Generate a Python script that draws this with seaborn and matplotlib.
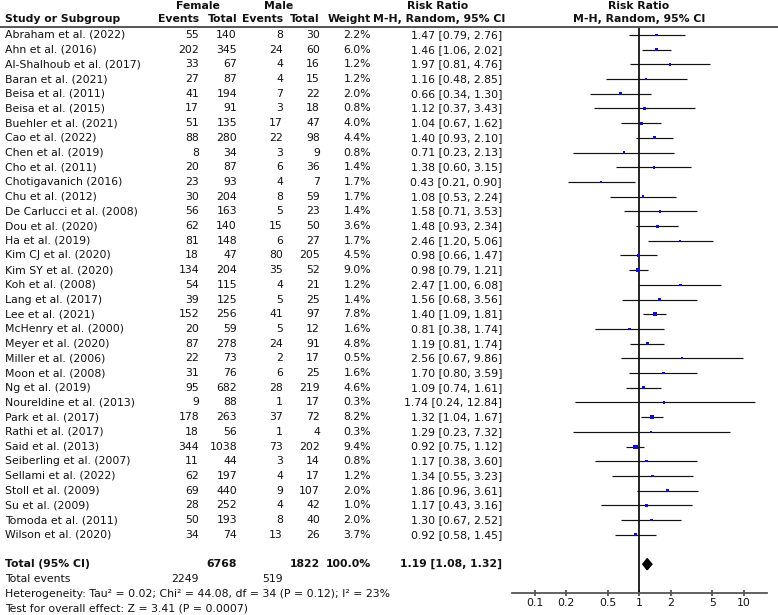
"""
Forest plot - Risk ratio, female vs male (M-H, random effects)
"""

import numpy as np
import matplotlib.pyplot as plt
import matplotlib.transforms as mtransforms
from matplotlib.lines import Line2D
import seaborn as sns

# -- Data -------------------------------------------------------------------
studies = [
    "Abraham et al. (2022)", "Ahn et al. (2016)", "Al-Shalhoub et al. (2017)",
    "Baran et al. (2021)", "Beisa et al. (2011)", "Beisa et al. (2015)",
    "Buehler et al. (2021)", "Cao et al. (2022)", "Chen et al. (2019)",
    "Cho et al. (2011)", "Chotigavanich (2016)", "Chu et al. (2012)",
    "De Carlucci et al. (2008)", "Dou et al. (2020)", "Ha et al. (2019)",
    "Kim CJ et al. (2020)", "Kim SY et al. (2020)", "Koh et al. (2008)",
    "Lang et al. (2017)", "Lee et al. (2021)", "McHenry et al. (2000)",
    "Meyer et al. (2020)", "Miller et al. (2006)", "Moon et al. (2008)",
    "Ng et al. (2019)", "Noureldine et al. (2013)", "Park et al. (2017)",
    "Rathi et al. (2017)", "Said et al. (2013)", "Seiberling et al. (2007)",
    "Sellami et al. (2022)", "Stoll et al. (2009)", "Su et al. (2009)",
    "Tomoda et al. (2011)", "Wilson et al. (2020)",
]
female_events = [55, 202, 33, 27, 41, 17, 51, 88, 8, 20, 23, 30, 56, 62, 81, 18, 134, 54,
                 39, 152, 20, 87, 22, 31, 95, 9, 178, 18, 344, 11, 62, 69, 28, 50, 34]
female_total = [140, 345, 67, 87, 194, 91, 135, 280, 34, 87, 93, 204, 163, 140, 148, 47, 204, 115,
                125, 256, 59, 278, 73, 76, 682, 88, 263, 56, 1038, 44, 197, 440, 252, 193, 74]
male_events = [8, 24, 4, 4, 7, 3, 17, 22, 3, 6, 4, 8, 5, 15, 6, 80, 35, 4,
               5, 41, 5, 24, 2, 6, 28, 1, 37, 1, 73, 3, 4, 9, 4, 8, 13]
male_total = [30, 60, 16, 15, 22, 18, 47, 98, 9, 36, 7, 59, 23, 50, 27, 205, 52, 21,
              25, 97, 12, 91, 17, 25, 219, 17, 72, 4, 202, 14, 17, 107, 42, 40, 26]
weights = [2.2, 6.0, 1.2, 1.2, 2.0, 0.8, 4.0, 4.4, 0.8, 1.4, 1.7, 1.7, 1.4, 3.6, 1.7, 4.5, 9.0, 1.2,
           1.4, 7.8, 1.6, 4.8, 0.5, 1.6, 4.6, 0.3, 8.2, 0.3, 9.4, 0.8, 1.2, 2.0, 1.0, 2.0, 3.7]
rr = [1.47, 1.46, 1.97, 1.16, 0.66, 1.12, 1.04, 1.40, 0.71, 1.38, 0.43, 1.08, 1.58, 1.48, 2.46, 0.98,
      0.98, 2.47, 1.56, 1.40, 0.81, 1.19, 2.56, 1.70, 1.09, 1.74, 1.32, 1.29, 0.92, 1.17, 1.34, 1.86,
      1.17, 1.30, 0.92]
ci_low = [0.79, 1.06, 0.81, 0.48, 0.34, 0.37, 0.67, 0.93, 0.23, 0.60, 0.21, 0.53, 0.71, 0.93, 1.20, 0.66,
          0.79, 1.00, 0.68, 1.09, 0.38, 0.81, 0.67, 0.80, 0.74, 0.24, 1.04, 0.23, 0.75, 0.38, 0.55, 0.96,
          0.43, 0.67, 0.58]
ci_high = [2.76, 2.02, 4.76, 2.85, 1.30, 3.43, 1.62, 2.10, 2.13, 3.15, 0.90, 2.24, 3.53, 2.34, 5.06, 1.47,
           1.21, 6.08, 3.56, 1.81, 1.74, 1.74, 9.86, 3.59, 1.61, 12.84, 1.67, 7.32, 1.12, 3.60, 3.23, 3.61,
           3.16, 2.52, 1.45]

total_rr, total_low, total_high = 1.19, 1.08, 1.32
total_female, total_male = 6768, 1822
events_female, events_male = 2249, 519
heterogeneity = "Heterogeneity: Tau² = 0.02; Chi² = 44.08, df = 34 (P = 0.12); I² = 23%"
overall_effect = "Test for overall effect: Z = 3.41 (P = 0.0007)"
axis_ticks = [0.1, 0.2, 0.5, 1, 2, 5, 10]

# -- Style ------------------------------------------------------------------
sns.set_theme(style="white")
plt.rcParams["font.family"] = ["DejaVu Sans"]
FS = 7.8
W, H = 778, 615
SQUARE = "#1010c8"
GRID = "#555555"


def fx(px):
    """Pixel x -> figure fraction."""
    return px / W


def main():
    fig = plt.figure(figsize=(W / 100, H / 100), dpi=100)
    ax = fig.add_axes([fx(512), (H - 592.7) / H, fx(767) - fx(512), (592.7 - 27) / H])

    rows = np.arange(len(studies))
    total_row = len(studies) + 1

    # forest part
    ax.set_xscale("log")
    ax.set_xlim(10 ** ((512 - 639.3) / 104.5), 10 ** ((767 - 639.3) / 104.5))
    ax.set_ylim(37.94, -0.544)
    ax.axvline(1, color="black", lw=1.2, zorder=1)
    ax.hlines(rows, ci_low, ci_high, color="#111111", lw=0.85, zorder=2)
    sns.scatterplot(x=rr, y=rows, size=weights, sizes=(2, 9), size_norm=(0, 9.4),
                    marker="s", color=SQUARE, linewidth=0, legend=False, ax=ax, zorder=3)
    dh = 0.38
    ax.fill([total_low, total_rr, total_high, total_rr],
            [total_row, total_row - dh, total_row, total_row + dh],
            color="black", zorder=3)

    for side in ["top", "left", "right"]:
        ax.spines[side].set_visible(False)
    ax.spines["bottom"].set_color(GRID)
    ax.spines["bottom"].set_linewidth(1.3)
    ax.set_yticks([])
    ax.set_xticks(axis_ticks)
    ax.set_xticklabels([f"{t:g}" for t in axis_ticks])
    ax.xaxis.set_minor_locator(plt.NullLocator())
    ax.tick_params(axis="x", direction="inout", length=5, width=1.3, color=GRID,
                   pad=1, labelsize=FS, labelcolor="#111111", bottom=True)

    # table text
    tr = mtransforms.blended_transform_factory(fig.transFigure, ax.transData)

    def put(px, row, s, ha="right", bold=False):
        fig.text(fx(px), row, s, transform=tr, ha=ha, va="center", fontsize=FS,
                 fontweight="bold" if bold else "normal", color="#111111")

    # headers
    h1, h2 = -1.95, -1.07
    put(5, h2, "Study or Subgroup", ha="left", bold=True)
    put(198, h1, "Female", ha="center", bold=True)
    put(279, h1, "Male", ha="center", bold=True)
    put(199, h2, "Events", bold=True)
    put(237, h2, "Total", bold=True)
    put(283, h2, "Events", bold=True)
    put(320, h2, "Total", bold=True)
    put(371, h2, "Weight", bold=True)
    put(438, h1, "Risk Ratio", ha="center", bold=True)
    put(439, h2, "M-H, Random, 95% CI", ha="center", bold=True)
    put(639, h1, "Risk Ratio", ha="center", bold=True)
    put(639, h2, "M-H, Random, 95% CI", ha="center", bold=True)
    fig.add_artist(Line2D([0, 1], [(H - 27) / H] * 2, transform=fig.transFigure,
                          color=GRID, lw=1.4))

    for i, name in enumerate(studies):
        put(5, i, name, ha="left")
        put(199, i, str(female_events[i]))
        put(237, i, str(female_total[i]))
        put(283, i, str(male_events[i]))
        put(320, i, str(male_total[i]))
        put(371, i, f"{weights[i]:.1f}%")
        put(502, i, f"{rr[i]:.2f} [{ci_low[i]:.2f}, {ci_high[i]:.2f}]")

    put(5, total_row, "Total (95% CI)", ha="left", bold=True)
    put(237, total_row, str(total_female), bold=True)
    put(320, total_row, str(total_male), bold=True)
    put(371, total_row, "100.0%", bold=True)
    put(502, total_row, f"{total_rr:.2f} [{total_low:.2f}, {total_high:.2f}]", bold=True)
    put(5, total_row + 1, "Total events", ha="left")
    put(199, total_row + 1, str(events_female))
    put(283, total_row + 1, str(events_male))
    put(5, total_row + 2, heterogeneity, ha="left")
    put(5, total_row + 3, overall_effect, ha="left")

    fig.savefig("out.png", dpi=100)
    plt.close(fig)


if __name__ == "__main__":
    main()
